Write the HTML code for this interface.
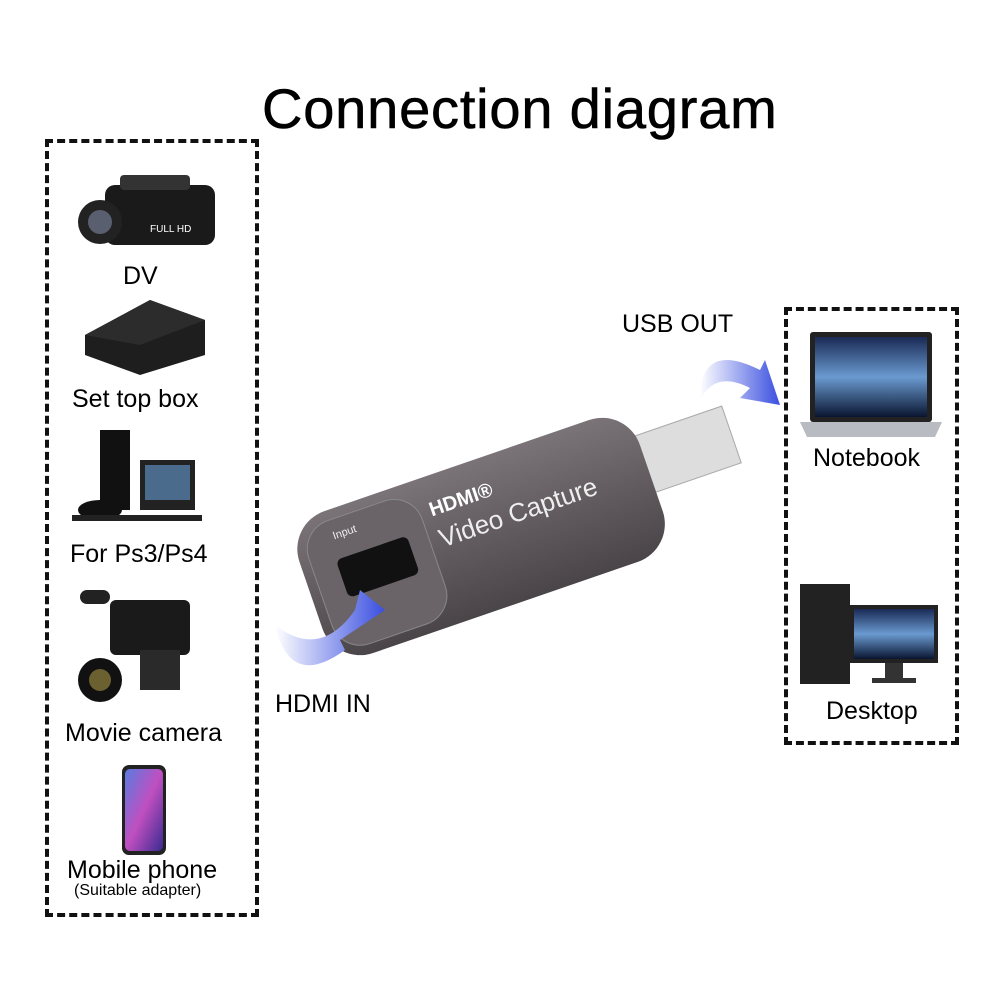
<!DOCTYPE html>
<html><head><meta charset="utf-8"><style>
body{margin:0;width:1000px;height:1000px;background:#fff;position:relative;overflow:hidden;font-family:"Liberation Sans",Arial,sans-serif;}
.t{position:absolute;color:#000;white-space:nowrap;font-size:25px;}
.box{position:absolute;border:4px dashed #111;box-sizing:border-box;}
</style></head><body>
<div class="t" style="left:262px;top:76px;font-size:56px;letter-spacing:0.8px;-webkit-text-stroke:0.6px #000;">Connection diagram</div>
<div class="box" style="left:45px;top:139px;width:214px;height:778px;"></div>
<div class="box" style="left:784px;top:307px;width:175px;height:438px;"></div>

<svg width="1000" height="1000" style="position:absolute;left:0;top:0">
<defs><linearGradient id="ph" x1="0" y1="0" x2="1" y2="1"><stop offset="0" stop-color="#5a7be0"/><stop offset="0.5" stop-color="#c04fc0"/><stop offset="1" stop-color="#3a2a90"/></linearGradient>
<linearGradient id="ar" x1="0" y1="0" x2="1" y2="0"><stop offset="0" stop-color="#fff"/><stop offset="1" stop-color="#3a4fe0"/></linearGradient>
<linearGradient id="scr" x1="0" y1="0" x2="0" y2="1"><stop offset="0" stop-color="#1a2a55"/><stop offset="0.5" stop-color="#6a9ad0"/><stop offset="1" stop-color="#0a1530"/></linearGradient>
<linearGradient id="dev" x1="0" y1="0" x2="0" y2="1"><stop offset="0" stop-color="#7a7377"/><stop offset="1" stop-color="#4a4548"/></linearGradient></defs>
<!-- DV camera -->
<rect x="105" y="185" width="110" height="60" rx="10" fill="#1a1a1a"/>
<rect x="120" y="175" width="70" height="15" rx="4" fill="#333"/>
<circle cx="100" cy="222" r="22" fill="#222"/><circle cx="100" cy="222" r="12" fill="#5a5f70"/>
<text x="150" y="232" font-size="10" fill="#fff" font-family="Liberation Sans">FULL HD</text>
<!-- set top box -->
<path d="M85 335 L150 300 L205 320 L205 355 L140 375 L85 355Z" fill="#1e1e1e"/>
<path d="M85 335 L150 300 L205 320 L140 345Z" fill="#2c2c2c"/>
<!-- PS -->
<rect x="100" y="430" width="30" height="80" fill="#111"/>
<rect x="140" y="460" width="55" height="50" fill="#222"/><rect x="145" y="465" width="45" height="35" fill="#4a6b8c"/>
<ellipse cx="100" cy="510" rx="22" ry="10" fill="#111"/>
<rect x="72" y="515" width="130" height="6" fill="#222"/>
<!-- movie camera -->
<rect x="110" y="600" width="80" height="55" rx="6" fill="#1a1a1a"/>
<circle cx="100" cy="680" r="22" fill="#111"/><circle cx="100" cy="680" r="11" fill="#6b6030"/>
<rect x="80" y="590" width="30" height="14" rx="7" fill="#222"/>
<rect x="140" y="650" width="40" height="40" fill="#2a2a2a"/>
<!-- phone -->
<rect x="122" y="765" width="44" height="90" rx="7" fill="#222"/>
<rect x="125" y="769" width="38" height="82" rx="5" fill="url(#ph)"/>
<!-- notebook -->
<rect x="810" y="332" width="122" height="90" rx="3" fill="#222"/>
<rect x="815" y="337" width="112" height="80" fill="url(#scr)"/>
<path d="M800 422 L942 422 L935 437 L807 437Z" fill="#b8bcc2"/>
<!-- desktop -->
<rect x="800" y="584" width="50" height="100" fill="#222"/>
<rect x="850" y="605" width="88" height="58" fill="#222"/><rect x="854" y="609" width="80" height="50" fill="url(#scr)"/>
<rect x="885" y="663" width="18" height="15" fill="#333"/><rect x="872" y="678" width="44" height="5" fill="#333"/>
<!-- device -->
<g transform="rotate(-19 500 530)">
<rect x="640" y="485" width="110" height="60" fill="#ddd" stroke="#aaa"/>
<rect x="300" y="455" width="360" height="150" rx="40" fill="url(#dev)"/>
<rect x="310" y="465" width="120" height="130" rx="30" fill="#6a6468" stroke="#888"/>
<rect x="335" y="505" width="75" height="40" rx="6" fill="#111"/>
<text x="440" y="495" font-size="20" fill="#fff" font-weight="bold" font-family="Liberation Sans">HDMI®</text>
<text x="440" y="528" font-size="26" fill="#eee" font-family="Liberation Sans">Video Capture</text>
<text x="340" y="485" font-size="11" fill="#eee" font-family="Liberation Sans">Input</text>
</g>
<!-- arrows -->
<path d="M275 625 Q290 690 345 650 L340 640 L385 610 L360 590 L355 610 Q320 660 275 625Z" fill="url(#ar)"/>
<path d="M700 400 Q700 340 760 370 L765 360 L780 405 L740 398 L750 388 Q715 370 700 400Z" fill="url(#ar)"/>
</svg>

<div class="t" style="left:123px;top:262px;">DV</div>
<div class="t" style="left:72px;top:385px;">Set top box</div>
<div class="t" style="left:70px;top:540px;">For Ps3/Ps4</div>
<div class="t" style="left:65px;top:719px;">Movie camera</div>
<div class="t" style="left:67px;top:856px;">Mobile phone</div>
<div class="t" style="left:74px;top:882px;font-size:16px;">(Suitable adapter)</div>
<div class="t" style="left:275px;top:690px;">HDMI IN</div>
<div class="t" style="left:622px;top:310px;">USB OUT</div>
<div class="t" style="left:813px;top:444px;">Notebook</div>
<div class="t" style="left:826px;top:697px;">Desktop</div>
</body></html>
